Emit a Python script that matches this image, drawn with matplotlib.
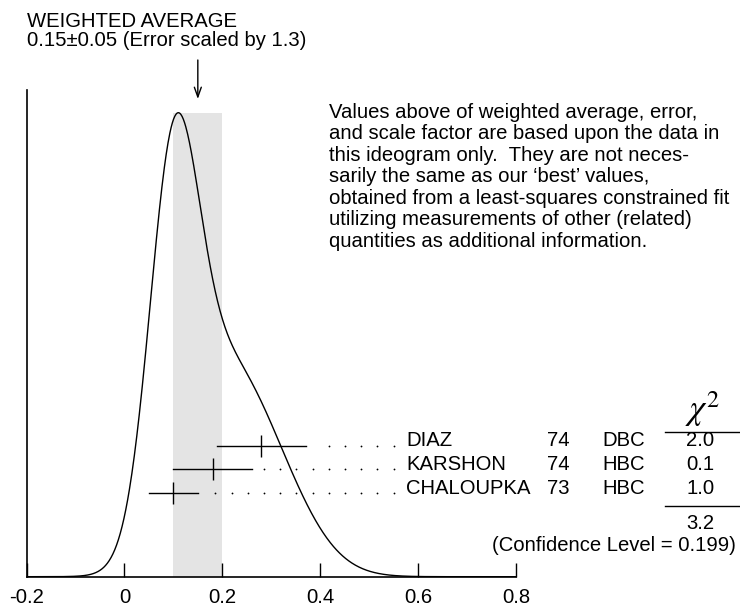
import numpy as np
import matplotlib
matplotlib.use('Agg')
import matplotlib.pyplot as plt

# measurements shown in the ideogram
names = ['DIAZ', 'KARSHON', 'CHALOUPKA']
years = ['74', '74', '73']
techs = ['DBC', 'HBC', 'HBC']
values = [0.28, 0.18, 0.10]
errors = [0.09, 0.08, 0.05]
chi2 = [2.0, 0.1, 1.0]
chi2_total = 3.2
conf_level = 0.199

avg = 0.15
avg_err = 0.05
err_scale = 1.3

xticks = [-0.2, 0, 0.2, 0.4, 0.6, 0.8]
xticklabels = ['-0.2', '0', '0.2', '0.4', '0.6', '0.8']

note = ["Values above of weighted average, error,",
        "and scale factor are based upon the data in",
        "this ideogram only.  They are not neces-",
        "sarily the same as our \u2018best\u2019 values,",
        "obtained from a least-squares constrained fit",
        "utilizing measurements of other (related)",
        "quantities as additional information."]

plt.rcParams['font.family'] = ['Liberation Sans', 'DejaVu Sans']
plt.rcParams['mathtext.fontset'] = 'stix'
fs = 14.6

W, H = 740, 607
fig = plt.figure(figsize=(W / 100, H / 100), dpi=100)


def fpos(x, y):
    # pixel position (from top-left) -> figure fraction
    return x / W, 1 - y / H


x0, x1 = 26.5, 516
y_axis, y_top = 576.7, 90
ax = fig.add_axes([x0 / W, 1 - y_axis / H, (x1 - x0) / W, (y_axis - y_top) / H])

# ideogram: one gaussian per measurement, area ~ 1/error
xs = np.linspace(-0.2, 0.8, 800)
ideo = np.zeros_like(xs)
for v, e in zip(values, errors):
    ideo += np.exp(-0.5 * ((xs - v) / e) ** 2) / e ** 2
ideo /= ideo.max()

peak_px = 112.7
ax.set_xlim(-0.2, 0.8)
ax.set_ylim(0, (y_axis - y_top) / (y_axis - peak_px))

ax.fill_between([avg - avg_err, avg + avg_err], 0, 1, color='#e4e4e4', lw=0, zorder=1)
ax.plot(xs, ideo, color='black', lw=1.0, zorder=3)

ax.spines['top'].set_visible(False)
ax.spines['right'].set_visible(False)
ax.spines['left'].set_linewidth(1.2)
ax.spines['bottom'].set_linewidth(1.2)
ax.set_yticks([])
ax.set_xticks(xticks)
ax.set_xticklabels(xticklabels)
ax.tick_params(axis='x', direction='in', length=10, width=1, pad=8, labelsize=fs)

# error bars, dotted leaders and table rows
row_px = [445.7, 469.3, 493.0]
trans = ax.get_xaxis_transform()
dots = 0.55 - 0.0331 * np.arange(12)
for i in range(len(names)):
    yy = (y_axis - row_px[i]) / (y_axis - y_top)
    v, e = values[i], errors[i]
    ax.plot([v - e, v + e], [yy, yy], color='black', lw=1.0, transform=trans, zorder=4)
    ax.plot([v], [yy], marker='|', ms=16, mew=1.0, color='black', transform=trans, zorder=4)
    d = dots[dots > v + e + 0.02]
    ax.plot(d, [yy] * len(d), ls='none', marker='o', ms=1.3, mew=0, color='black',
            transform=trans, zorder=4)
    fig.text(*fpos(406, row_px[i] + 0.5), names[i], fontsize=fs, va='baseline')
    fig.text(*fpos(546.5, row_px[i] + 0.5), years[i], fontsize=fs, va='baseline')
    fig.text(*fpos(602.5, row_px[i] + 0.5), techs[i], fontsize=fs, va='baseline')
    fig.text(*fpos(700.5, row_px[i] + 0.5), '%.1f' % chi2[i], fontsize=fs,
             va='baseline', ha='center')

# chi2 column header, rules and totals
fig.text(*fpos(703, 429), r'$\chi^2$', fontsize=25, ha='center', va='bottom')
fig.add_artist(plt.Line2D([665 / W, 1], [1 - 431.7 / H] * 2, color='black', lw=1.0))
fig.add_artist(plt.Line2D([665 / W, 1], [1 - 506 / H] * 2, color='black', lw=1.0))
fig.text(*fpos(700.5, 529), '%.1f' % chi2_total, fontsize=fs, va='baseline', ha='center')
fig.text(*fpos(736, 551), '(Confidence Level = %.3f)' % conf_level, fontsize=fs,
         va='baseline', ha='right')

# weighted average header and arrow
fig.text(*fpos(27, 26.7), 'WEIGHTED AVERAGE', fontsize=fs, va='baseline')
fig.text(*fpos(27, 46), '%.2f\u00b1%.2f (Error scaled by %.1f)' % (avg, avg_err, err_scale),
         fontsize=fs, va='baseline')
ax.annotate('', xy=(avg, H - 99), xytext=(avg, H - 60),
            xycoords=('data', 'figure pixels'), textcoords=('data', 'figure pixels'),
            arrowprops=dict(arrowstyle='->,head_length=0.7,head_width=0.25',
                            color='black', lw=1.0, shrinkA=0, shrinkB=0),
            annotation_clip=False)

for k, line in enumerate(note):
    fig.text(*fpos(329, 117.7 + 21.5 * k), line, fontsize=fs, va='baseline')

fig.savefig('out.png', dpi=100)
